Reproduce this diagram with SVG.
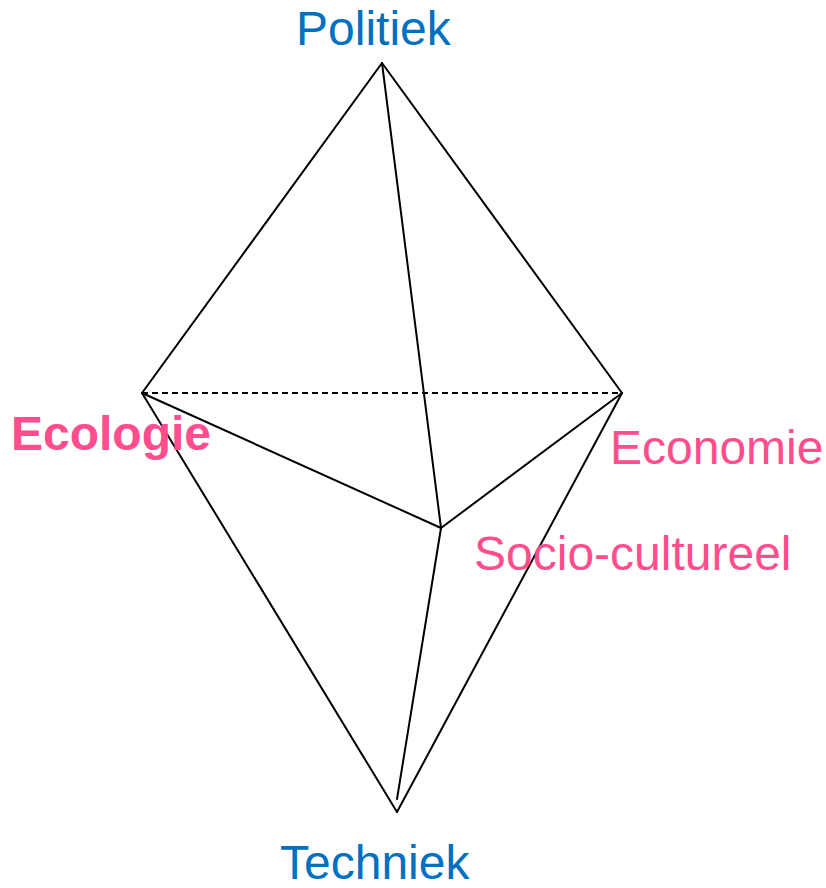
<svg xmlns="http://www.w3.org/2000/svg" width="826" height="888" viewBox="0 0 826 888">
<style>
.e{stroke:#000;stroke-width:2;fill:none;stroke-linecap:round}
.d{stroke-dasharray:6 4;stroke-linecap:butt}
.t{font-family:"Liberation Sans",Arial,sans-serif;font-size:48px}
.b{fill:#0070C0}
.p{fill:#FF4D8D}
</style>
<rect width="826" height="888" fill="#fff"/>
<g id="connectors">
<line class="e" x1="382" y1="63" x2="142" y2="393"/>
<line class="e" x1="382" y1="63" x2="622" y2="393"/>
<line class="e" x1="382" y1="63" x2="441" y2="528"/>
<line class="e d" x1="142" y1="393" x2="622" y2="393"/>
<line class="e" x1="142" y1="393" x2="441" y2="528"/>
<line class="e" x1="622" y1="393" x2="441" y2="528"/>
<line class="e" x1="142" y1="393" x2="397" y2="812"/>
<line class="e" x1="622" y1="393" x2="397" y2="812"/>
<line class="e" x1="441" y1="528" x2="397" y2="799"/>
</g>
<g id="politiek"><text class="t b" x="296" y="45">Politiek</text></g>
<g id="ecologie"><text class="t p" x="11" y="450" font-weight="bold">Ecologie</text></g>
<g id="economie"><text class="t p" x="610" y="464">Economie</text></g>
<g id="socio"><text class="t p" x="474" y="570">Socio-cultureel</text></g>
<g id="techniek"><text class="t b" x="280" y="879">Techniek</text></g>
</svg>
